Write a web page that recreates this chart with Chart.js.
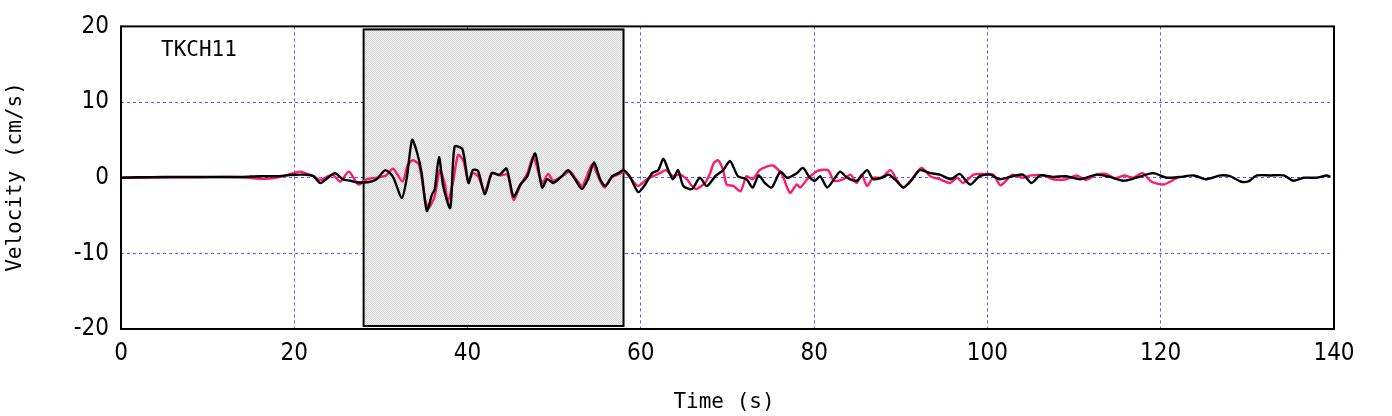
<!DOCTYPE html>
<html>
<head>
<meta charset="utf-8">
<script src="https://cdn.jsdelivr.net/npm/chart.js@4/dist/chart.umd.min.js"></script>
<style>
  html, body { margin: 0; padding: 0; background: #fff; }
  #wrap { width: 1392px; height: 416px; }
</style>
</head>
<body>
<div id="wrap"><canvas id="grafico" width="1392" height="416"></canvas></div>
<script>
// estacion y ventana sombreada (s)
const estacion = 'TKCH11'
const ventana = [28, 58]

const xTicks = [0, 20, 40, 60, 80, 100, 120, 140]
const yTicks = [-20, -10, 0, 10, 20]

// traza negra
const tiempoNegro = [0, 2, 5, 8, 11, 14, 16, 18, 19.5, 21, 22.2, 23.0, 24.0, 24.7, 25.6, 26.5, 27.2, 28.4, 29.5, 30.5,
  31.4, 32.4, 33.0, 33.6, 34.2, 34.7, 35.3, 35.9, 36.2, 36.7, 37.2, 38.0, 38.5, 39.4, 40.1, 40.6, 41.2, 42.0, 42.8, 43.7,
  44.5, 45.3, 46.1, 46.9, 47.8, 48.6, 49.2, 49.9, 50.9, 51.6, 52.4, 53.2, 53.9, 54.6, 55.3, 55.9, 56.7, 57.4, 58.0, 58.7,
  59.7, 60.5, 61.3, 62.0, 62.6, 63.1, 63.7, 64.3, 64.9, 65.9, 66.8, 67.6, 68.6, 69.5, 70.3, 71.2, 72.2, 72.9, 73.6, 74.3,
  75.1, 76.1, 76.9, 78.0, 78.7, 79.5, 80.1, 80.7, 81.5, 82.3, 83.0, 83.8, 84.9, 86.1, 86.8, 87.8, 88.6, 89.3, 90.3, 91.2,
  92.2, 93.4, 94.5, 95.8, 96.8, 98.0, 99.1, 100.3, 101.4, 102.6, 104.1, 105.1, 106.1, 107.6, 109.1, 110.7, 112.6, 114.1,
  115.7, 117.2, 119.1, 120.7, 122.2, 123.8, 125.3, 126.9, 128.0, 129.2, 130.1, 131.1, 132.6, 134.2, 135.3, 136.5, 138.0,
  139.2, 139.6]
const velocidadNegro = [0, 0.05, 0.1, 0.1, 0.1, 0.1, 0.2, 0.2, 0.35, 0.4, 0.2, -0.7, 0.1, 0.6, -0.2, -0.4, -0.6, -0.6, -0.2, 1.0,
  0.1, -2.7, 0.1, 5.0, 3.2, 0.6, -4.4, -2.2, -1.6, 2.7, -1.2, -4.0, 4.1, 3.8, -0.7, 1.0, 0.9, -2.2, 0.6, 0.4,
  1.2, -2.5, -0.9, 0.2, 3.2, -1.3, -0.2, -0.7, 0.2, 1.0, -0.2, -1.5, -0.2, 2.0, -0.2, -1.1, 0.2, 0.6, 1.0, 0.2,
  -1.9, -0.9, 0.6, 1.0, 2.5, 1.2, -0.2, 1.0, -1.1, -1.5, 0, -1.1, 0.2, 1.0, 2.2, 0.2, -0.2, -1.3, 0.3, -0.7,
  -1.3, 0.8, 0, 0.6, 1.3, 0, -0.4, 0.2, -1.3, -0.2, 0.8, 0, -0.4, 1.0, -0.2, 0, 0.4, -0.2, -1.3, -0.4,
  1.0, 0.6, 0.4, -0.2, 0.5, -0.9, 0.2, 0.4, -0.2, 0.1, 0.4, -0.7, 0.3, 0.1, 0.2, -0.2, 0.4, 0.1,
  -0.4, 0, 0.6, 0, 0.1, 0.3, -0.2, 0.3, 0.2, -0.5, -0.5, 0.3, 0.3, 0.3, -0.4, 0, 0,
  0.3, 0.1]

// traza roja
const tiempoRojo = [0, 3, 6, 9, 12, 14, 16.8, 18.4, 19.9, 20.7, 22.2, 23.0, 24.4, 25.3, 26.3, 27.4, 28.4, 29.5, 30.6, 31.4,
  32.5, 33.1, 33.7, 34.4, 35.1, 35.5, 36.2, 36.8, 37.4, 37.7, 38.3, 38.9, 39.5, 40.1, 40.6, 41.2, 42.0, 42.8, 43.7, 44.6,
  45.3, 46.1, 46.9, 47.6, 48.6, 49.3, 49.9, 50.9, 51.8, 52.4, 53.2, 53.7, 54.4, 55.2, 55.8, 56.6, 57.5, 58.1, 58.9, 59.7,
  60.7, 61.4, 62.2, 62.9, 63.7, 64.5, 65.3, 65.9, 66.4, 67.4, 68.0, 68.4, 68.9, 69.5, 69.9, 70.7, 71.5, 72.2, 72.9, 73.7,
  74.6, 75.3, 76.3, 77.2, 78.0, 78.4, 79.2, 80.4, 81.6, 82.3, 83.4, 84.2, 84.9, 85.5, 86.1, 86.8, 87.8, 88.8, 89.5, 90.3,
  91.4, 92.4, 93.4, 94.5, 95.7, 96.5, 97.2, 98.4, 99.5, 100.7, 101.5, 102.9, 104.0, 105.1, 106.5, 107.6, 109.1, 110.3,
  111.4, 112.6, 113.7, 114.7, 115.8, 116.8, 117.9, 118.9, 120.3, 121.3, 122.0]
const velocidadRojo = [0, 0, 0.05, 0.05, 0.1, 0.05, -0.15, 0.1, 0.6, 0.8, 0.2, -0.3, 0.4, -0.5, 0.8, -0.9, -0.2, 0, 0.3, 1.2,
  -0.5, 1.7, 2.3, 1.7, -2.9, -4.0, -2.5, 1.0, -0.9, -3.1, -0.7, 3.0, 2.3, -0.5, 0.6, 0.2, -1.8, 0.6, 0.3, 0.4,
  -2.9, -1.0, 0.6, 2.7, -0.7, 0.5, -0.4, 0.2, 0.8, 0, -1.1, 0, 1.8, -0.2, -1.3, 0, 0.5, 0.8, -0.2, -1.1,
  -0.2, 0.2, 0.6, 1.0, 0.2, 0.4, -0.2, -1.1, -1.5, -0.7, 0.6, 1.9, 2.3, 1.0, -0.9, -1.1, -1.8, 0.2, -0.2, 1.0,
  1.5, 1.6, 0.4, -2.0, -0.9, -1.3, -0.2, 0.9, 1.0, -0.4, -0.2, 0.4, -0.7, 0.4, -1.1, 0, 0, 1.0, -0.2, -1.3,
  0, 1.3, 0.2, -0.2, -0.7, 0, -0.7, 0.4, 0.5, 0.4, -1.0, 0.4, 0, 0.3, 0.3, -0.2, -0.2, 0.3,
  -0.3, 0.4, 0.5, -0.1, 0.3, 0, 0.6, -0.5, -0.9, -0.4, 0.1]

const aPuntos = (ts, vs) => ts.map((t, i) => ({ x: t, y: vs[i] }))

// patron punteado gris claro para la ventana
const crearPatron = (g0) => {
  const c = document.createElement('canvas')
  c.width = 2
  c.height = 2
  const g = c.getContext('2d')
  g.fillStyle = '#f4f4f4'
  g.fillRect(0, 0, 2, 2)
  g.fillStyle = '#d6d6d6'
  g.fillRect(0, 0, 1, 1)
  g.fillRect(1, 1, 1, 1)
  return g0.createPattern(c, 'repeat')
}

const extras = {
  id: 'extras',
  beforeDatasetsDraw(chart) {
    const { ctx, scales: { x, y } } = chart
    const x0 = x.getPixelForValue(ventana[0])
    const x1 = x.getPixelForValue(ventana[1])
    const y0 = y.getPixelForValue(19.6)
    const y1 = y.getPixelForValue(-19.6)
    ctx.save()
    ctx.fillStyle = crearPatron(ctx)
    ctx.fillRect(x0, y0, x1 - x0, y1 - y0)
    ctx.lineWidth = 2
    ctx.strokeStyle = '#000'
    ctx.strokeRect(x0, y0, x1 - x0, y1 - y0)
    ctx.restore()
  },
  afterDatasetsDraw(chart) {
    const { ctx, chartArea: a } = chart
    ctx.save()
    ctx.lineWidth = 2
    ctx.strokeStyle = '#000'
    ctx.strokeRect(a.left, a.top, a.right - a.left, a.bottom - a.top)
    ctx.fillStyle = '#000'
    ctx.font = '21px "DejaVu Sans Mono", monospace'
    ctx.textBaseline = 'middle'
    ctx.textAlign = 'left'
    ctx.fillText(estacion, 161, 51)
    ctx.textAlign = 'center'
    ctx.fillText('Time (s)', 724, 403)
    ctx.translate(16, 177)
    ctx.rotate(-Math.PI / 2)
    ctx.fillText('Velocity (cm/s)', 0, 0)
    ctx.restore()
  }
}

const gridColor = (ctx) => {
  const v = ctx.tick && ctx.tick.value
  if (v === undefined) return 'rgba(0,0,0,0)'
  const s = ctx.scale
  if (v === s.min || v === s.max) return 'rgba(0,0,0,0)'
  return '#5a5aff'
}

const fuenteTicks = { family: '"Liberation Sans Narrow", "DejaVu Sans Condensed", sans-serif', size: 24 }

new Chart(document.getElementById('grafico'), {
  type: 'line',
  data: {
    datasets: [
      {
        data: aPuntos(tiempoNegro, velocidadNegro),
        borderColor: '#000000',
        borderWidth: 2.4,
        pointRadius: 0,
        tension: 0.25
      },
      {
        data: aPuntos(tiempoRojo, velocidadRojo),
        borderColor: '#ff1a6a',
        borderWidth: 2.4,
        pointRadius: 0,
        tension: 0.25
      }
    ]
  },
  options: {
    responsive: false,
    animation: false,
    layout: { padding: { top: 23, right: 58, left: 0, bottom: 0 } },
    plugins: { legend: { display: false }, tooltip: { enabled: false } },
    scales: {
      x: {
        type: 'linear',
        min: 0,
        max: 140,
        afterBuildTicks: (s) => { s.ticks = xTicks.map(v => ({ value: v })) },
        afterFit: (s) => { s.height = 87 },
        border: { display: false, dash: [3, 3] },
        grid: { color: gridColor, lineWidth: 1, drawTicks: false },
        ticks: { color: '#000', font: fuenteTicks, padding: 10, maxRotation: 0 }
      },
      y: {
        type: 'linear',
        min: -20,
        max: 20,
        afterBuildTicks: (s) => { s.ticks = yTicks.map(v => ({ value: v })) },
        afterFit: (s) => { s.width = 121 },
        border: { display: false, dash: [3, 3] },
        grid: { color: gridColor, lineWidth: 1, drawTicks: false },
        ticks: { color: '#000', font: fuenteTicks, padding: 12 }
      }
    }
  },
  plugins: [extras]
})
</script>
</body>
</html>
